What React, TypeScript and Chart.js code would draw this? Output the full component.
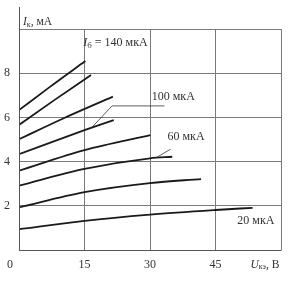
import React, { useEffect, useRef } from "react";
import { Chart, registerables } from "chart.js";

Chart.register(...registerables);

// Collector voltage U_кэ (V) and collector current I_к (mA) for each base current curve
const curve1X = [0, 7, 15.2];
const curve1Y = [6.33, 7.37, 8.55];
const curve2X = [0, 8, 16.5];
const curve2Y = [5.66, 6.77, 7.92];
const curve3X = [0, 10, 21.5];
const curve3Y = [5.01, 5.94, 6.94];
const curve4X = [0, 15, 21.7];
const curve4Y = [4.34, 5.42, 5.88];
const curve5X = [0, 15, 30.1];
const curve5Y = [3.59, 4.52, 5.2];
const curve6X = [0, 15, 30, 35.1];
const curve6Y = [2.91, 3.67, 4.15, 4.22];
const curve7X = [0, 15, 30, 41.7];
const curve7Y = [1.93, 2.62, 3.03, 3.21];
const curve8X = [0, 15, 30, 45, 53.5];
const curve8Y = [0.94, 1.32, 1.6, 1.81, 1.91];

const xTickLabels = ["0", "15", "30", "45"];
const xTickValues = [0, 15, 30, 45];
const yTickLabels = ["2", "4", "6", "8"];
const yTickValues = [2, 4, 6, 8];

const curveLabels = ["140 мкА", "100 мкА", "60 мкА", "20 мкА"];

const allX = [curve1X, curve2X, curve3X, curve4X, curve5X, curve6X, curve7X, curve8X];
const allY = [curve1Y, curve2Y, curve3Y, curve4Y, curve5Y, curve6Y, curve7Y, curve8Y];

const FONT = '"Liberation Serif", "Times New Roman", serif';

export default function App() {
  const ref = useRef<HTMLCanvasElement | null>(null);

  useEffect(() => {
    if (!ref.current) return;
    const datasets = allX.map((xs, i) => ({
      data: xs.map((x, j) => ({ x, y: allY[i][j] })),
      borderColor: "#1a1a1a",
      borderWidth: 1.8,
      pointRadius: 0,
      fill: false,
      cubicInterpolationMode: "monotone" as const,
    }));

    const annotate = {
      id: "annotate",
      afterDraw(chart: any) {
        const ctx = chart.ctx as CanvasRenderingContext2D;
        const xs = chart.scales.x;
        const ys = chart.scales.y;
        const area = chart.chartArea;
        const px = (v: number) => xs.getPixelForValue(v);
        const py = (v: number) => ys.getPixelForValue(v);
        ctx.save();
        // axes
        ctx.strokeStyle = "#555";
        ctx.lineWidth = 1;
        ctx.beginPath();
        const lx = Math.round(area.left) + 0.5;
        const by = Math.round(area.bottom) + 0.5;
        ctx.moveTo(lx, area.top - 22);
        ctx.lineTo(lx, by);
        ctx.lineTo(Math.round(area.right) + 0.5, by);
        ctx.stroke();

        ctx.fillStyle = "#333";
        ctx.textBaseline = "middle";
        // tick labels
        ctx.font = `12px ${FONT}`;
        ctx.textAlign = "center";
        yTickValues.forEach((v, i) => {
          ctx.fillText(yTickLabels[i], 7, py(v));
        });
        xTickValues.forEach((v, i) => {
          const x = v === 0 ? 10 : px(v);
          ctx.fillText(xTickLabels[i], x, by + 14);
        });

        // helper for text with subscript
        const sub = (x: number, y: number, main: string, s: string, rest: string, size: number) => {
          ctx.textAlign = "left";
          ctx.font = `italic ${size}px ${FONT}`;
          ctx.fillText(main, x, y);
          let cx = x + ctx.measureText(main).width;
          ctx.font = `${Math.round(size * 0.72)}px ${FONT}`;
          ctx.fillText(s, cx, y + size * 0.25);
          cx += ctx.measureText(s).width;
          ctx.font = `${size}px ${FONT}`;
          ctx.fillText(rest, cx, y);
        };

        // axis titles
        sub(area.left + 4, area.top - 7, "I", "к", ", мА", 11.5);
        sub(px(53.0), by + 14, "U", "кэ", ", В", 11.5);

        // curve labels
        sub(px(14.7), py(9.37), "I", "б", " = " + curveLabels[0], 12);
        ctx.font = `12px ${FONT}`;
        ctx.textAlign = "left";
        ctx.fillText(curveLabels[1], px(30.4), py(6.95));
        ctx.fillText(curveLabels[2], px(34.0), py(5.1));
        ctx.fillText(curveLabels[3], px(50.0), py(1.31));

        // leaders
        ctx.strokeStyle = "#333";
        ctx.lineWidth = 0.8;
        ctx.beginPath();
        ctx.moveTo(px(16.7), py(5.55));
        ctx.lineTo(px(21.3), py(6.52));
        ctx.lineTo(px(33.3), py(6.52));
        ctx.moveTo(px(31.6), py(4.2));
        ctx.lineTo(px(34.7), py(4.56));
        ctx.stroke();
        ctx.restore();
      },
    };

    const chart = new Chart(ref.current, {
      type: "line",
      data: { datasets },
      options: {
        animation: false,
        responsive: false,
        maintainAspectRatio: false,
        devicePixelRatio: 1,
        layout: { padding: { left: 19, top: 29, right: 20, bottom: 31 } },
        plugins: { legend: { display: false }, tooltip: { enabled: false } },
        scales: {
          x: {
            type: "linear",
            min: 0,
            max: 60,
            ticks: { display: false, stepSize: 15 },
            grid: { color: "#7a7a7a", lineWidth: 1, drawTicks: false },
            border: { display: false },
          },
          y: {
            type: "linear",
            min: 0,
            max: 10,
            ticks: { display: false, stepSize: 2 },
            grid: { color: "#7a7a7a", lineWidth: 1, drawTicks: false },
            border: { display: false },
          },
        },
      },
      plugins: [annotate],
    });
    return () => chart.destroy();
  }, []);

  return (
    <div style={{ position: "absolute", left: 0, top: 0, width: 301, height: 281, background: "#fff" }}>
      <canvas ref={ref} width={301} height={281} />
    </div>
  );
}
